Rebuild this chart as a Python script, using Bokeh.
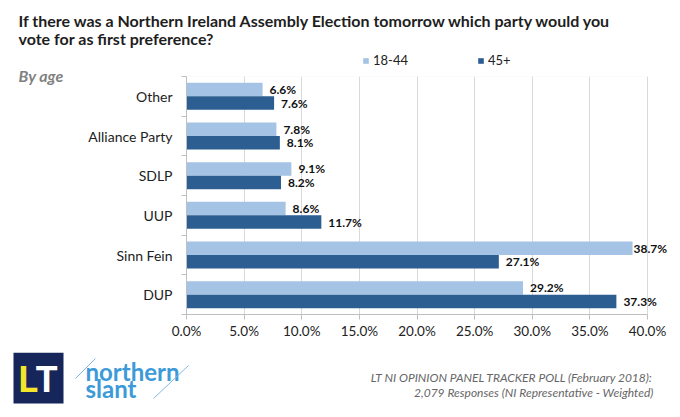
from bokeh.plotting import figure
from bokeh.layouts import column, row
from bokeh.models import (Range1d, FixedTicker, PrintfTickFormatter, ColumnDataSource,
                          LabelSet, BoxAnnotation, Legend, LegendItem)
from bokeh.core.properties import value
from bokeh.embed import file_html
from bokeh.resources import INLINE

# ---- data ----
categories = ["Other", "Alliance Party", "SDLP", "UUP", "Sinn Fein", "DUP"]
age_18_44 = [6.6, 7.8, 9.1, 8.6, 38.7, 29.2]
age_45_plus = [7.6, 8.1, 8.2, 11.7, 27.1, 37.3]
series_names = ["18-44", "45+"]
x_ticks = [0, 5, 10, 15, 20, 25, 30, 35, 40]
title_lines = ["If there was a Northern Ireland Assembly Election tomorrow which party would you",
               "vote for as first preference?"]
subtitle = "By age"
footer_lines = ["LT NI OPINION PANEL TRACKER POLL (February 2018):",
                "2,079 Responses (NI Representative - Weighted)"]

LIGHT = "#a5c3e4"
DARK = "#2c5e92"
AXIS = "#bfbfbf"
GRID = "#d9d9d9"
FONT = "Lato"

W = 678
TITLE_H = 48        # title strip
LEG_H = 20          # legend strip (above chart)
LEFT_W = 80         # strip holding "By age"
MAIN_H = 284        # chart strip
BOT_H = 60          # logo + footer strip
FRAME_L = 186       # page x of 0%
PX_PER_PCT = 461 / 40.0
TEXT_RIGHT_LIMIT = 674


def blank(width, height):
    f = figure(width=width, height=height, x_range=Range1d(0, width), y_range=Range1d(height, 0),
               output_backend="svg", toolbar_location=None, x_axis_type=None, y_axis_type=None,
               title=None, min_border=0, min_border_left=0, min_border_right=0,
               min_border_top=0, min_border_bottom=0)
    f.outline_line_color = None
    f.grid.visible = False
    f.border_fill_color = "white"
    f.background_fill_color = "white"
    return f


def txt(f, x, y, s, size, style="normal", color="#222222", align="left", baseline="middle",
        font=FONT):
    f.text(x=[x], y=[y], text=[s], text_font=value(font), text_font_size=value(size),
           text_font_style=value(style), text_color=color, text_align=align,
           text_baseline=baseline)


# ---------------- title strip ----------------
top = blank(W, TITLE_H)
txt(top, 18, 20, title_lines[0], "16px", "bold", "#1e1e1e")
txt(top, 18, 38, title_lines[1], "16px", "bold", "#1e1e1e")

# ---------------- left strip: "By age" ----------------
left = blank(LEFT_W, LEG_H + MAIN_H)
txt(left, 18, 75 - TITLE_H, subtitle, "16px", "bold italic", "#808080")

# ---------------- legend strip ----------------
main_w = W - LEFT_W
leg = blank(main_w, LEG_H)
# zero-width proxy bars (outside the strip) that carry the legend swatches
r_a = leg.hbar(y=[-50], left=[0], right=[0], height=1, fill_color=LIGHT, line_color=None)
r_b = leg.hbar(y=[-50], left=[0], right=[0], height=1, fill_color=DARK, line_color=None)
# the column layout aligns this strip's frame with the chart frame (page x = FRAME_L)
legend = Legend(items=[LegendItem(label=series_names[0], renderers=[r_a]),
                       LegendItem(label=series_names[1], renderers=[r_b])],
                orientation="horizontal", location=(362 - FRAME_L, 0),
                label_text_font=FONT, label_text_font_size="13px", label_text_color="#222222",
                glyph_width=7, glyph_height=7, label_standoff=4, label_height=14,
                spacing=69, padding=0, margin=0, border_line_color=None,
                background_fill_alpha=0)
leg.add_layout(legend)

# ---------------- main chart ----------------
border_left = FRAME_L - LEFT_W
frame_w = main_w - border_left
x_end = frame_w / PX_PER_PCT
border_top = 76 - TITLE_H - LEG_H
frame_h = 238

n = len(categories)
p = figure(width=main_w, height=MAIN_H, x_range=Range1d(0, x_end), y_range=Range1d(n, 0),
           output_backend="svg", toolbar_location=None, title=None,
           min_border_left=border_left, min_border_right=0, min_border_top=border_top,
           min_border_bottom=MAIN_H - border_top - frame_h)
p.outline_line_color = None
p.border_fill_color = "white"

centers = [i + 0.5 for i in range(n)]
bh = 0.34
LABEL_W = 41  # approx px width of a bold 12px "00.0%" label


def offsets(vals):
    out = []
    for v in vals:
        end_px = FRAME_L + v * PX_PER_PCT
        out.append(max(1, min(7, TEXT_RIGHT_LIMIT - LABEL_W - end_px)))
    return out


src_a = ColumnDataSource(dict(y=[c - bh / 2 for c in centers], v=age_18_44,
                              t=[f"{v:.1f}%" for v in age_18_44], o=offsets(age_18_44)))
src_b = ColumnDataSource(dict(y=[c + bh / 2 for c in centers], v=age_45_plus,
                              t=[f"{v:.1f}%" for v in age_45_plus], o=offsets(age_45_plus)))

p.hbar(y="y", right="v", left=0, height=bh, source=src_a, fill_color=LIGHT, line_color=None)
p.hbar(y="y", right="v", left=0, height=bh, source=src_b, fill_color=DARK, line_color=None)

# plot-area border (0%..40%)
p.add_layout(BoxAnnotation(left=0, right=40, top=0, bottom=n, fill_alpha=0,
                           line_color=GRID, line_width=1, level="underlay"))

for src in (src_a, src_b):
    p.add_layout(LabelSet(x="v", y="y", text="t", source=src, x_offset="o",
                          text_baseline="middle", text_font=value(FONT),
                          text_font_size=value("12px"), text_font_style=value("bold"),
                          text_color="#111111"))

# x axis
p.xaxis.ticker = FixedTicker(ticks=x_ticks)
p.xaxis.bounds = (0, 40)
p.xaxis.formatter = PrintfTickFormatter(format="%.1f%%")
p.xaxis.major_tick_out = 5
p.xaxis.major_tick_in = 0
p.xaxis.minor_tick_line_color = None
p.xaxis.axis_line_color = AXIS
p.xaxis.major_tick_line_color = AXIS
p.xaxis.major_label_text_font = FONT
p.xaxis.major_label_text_font_size = "13.5px"
p.xaxis.major_label_text_color = "#222222"
p.xaxis.major_label_standoff = 3

# y axis (labels at category centres, ticks at category boundaries)
p.yaxis.ticker = FixedTicker(ticks=centers, minor_ticks=list(range(n + 1)))
p.yaxis.major_label_overrides = {c: cat for c, cat in zip(centers, categories)}
p.yaxis.major_tick_out = 0
p.yaxis.major_tick_in = 0
p.yaxis.major_tick_line_color = None
p.yaxis.minor_tick_out = 5
p.yaxis.minor_tick_in = 0
p.yaxis.minor_tick_line_color = AXIS
p.yaxis.axis_line_color = AXIS
p.yaxis.major_label_standoff = 9
p.yaxis.major_label_text_font = FONT
p.yaxis.major_label_text_font_size = "14px"
p.yaxis.major_label_text_color = "#222222"

p.xgrid.ticker = FixedTicker(ticks=x_ticks)
p.xgrid.grid_line_color = GRID
p.ygrid.grid_line_color = None

# ---------------- bottom strip: logos + footer ----------------
bot = blank(W, BOT_H)
bot.quad(left=[13], right=[63], top=[0], bottom=[51], fill_color="#16255a", line_color=None)
txt(bot, 18, 27, "L", "36px", "bold", "#f3e62a", font="Roboto")
txt(bot, 35, 27, "T", "36px", "bold", "#ffffff", font="Roboto")
txt(bot, 85, 19, "northern", "24px", "bold", "#3d9ad8")
txt(bot, 85, 36, "slant", "24px", "bold", "#3d9ad8")
bot.segment(x0=[75, 153], y0=[26, 46], x1=[95, 188], y1=[6, 13], line_color="#7fb8e6",
            line_width=1)
txt(bot, 653, 25, footer_lines[0], "12px", "italic", "#666666", align="right")
txt(bot, 653, 40, footer_lines[1], "12px", "italic", "#666666", align="right")

layout = column(top, row(left, column(leg, p)), bot)
open("out.html", "w").write(file_html(layout, INLINE))
